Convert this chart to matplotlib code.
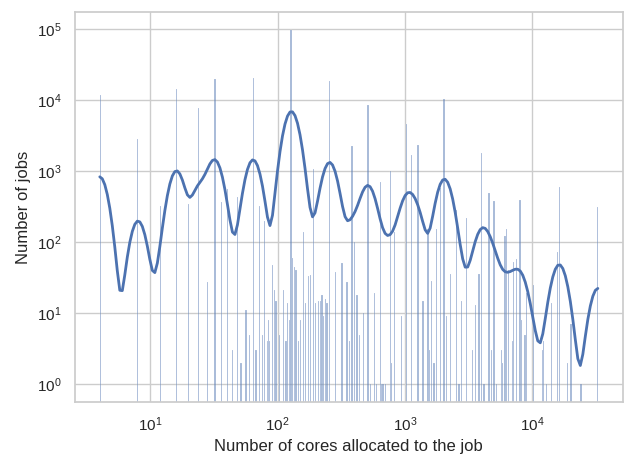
import numpy as np
import matplotlib
matplotlib.use("Agg")
import matplotlib.pyplot as plt
import seaborn as sns

# core counts requested by jobs and how many jobs asked for each
cores = [4, 8, 12, 16, 20, 24, 28, 32, 36, 40, 44, 48, 52, 56, 60, 64,
         68, 72, 76, 80, 82, 84, 86, 90, 94, 96, 104, 112, 116, 120, 124, 128,
         130, 136, 140, 144, 152, 160, 168, 176, 184, 192, 200, 208, 216, 224,
         228, 240, 244, 256, 288, 320, 352, 368, 384, 400, 416, 440, 464, 512,
         540, 576, 600, 640, 656, 672, 700, 768, 790, 820, 940, 1024, 1120,
         1250, 1370, 1500, 1560, 1620, 1700, 1792, 1880, 2048, 2130, 2260,
         2540, 2630, 2800, 3072, 3400, 3540, 3780, 4000, 4180, 4560, 4780,
         5000, 5200, 5730, 5900, 6144, 6300, 6600, 7000, 7240, 7560, 8000,
         8280, 8780, 9000, 10200, 12100, 12400, 12800, 14100, 15700, 16384,
         18900, 20000, 24300, 32768]
jobs = [11700, 2800, 325, 14100, 340, 7600, 27, 19500, 365, 550, 3, 435, 2, 11, 5, 20000,
        3, 325, 5, 200, 4, 8, 4, 48, 21, 15, 5, 21, 4, 14, 8, 97000,
        59, 44, 40, 4, 8, 137, 14, 33, 34, 1050, 14, 15, 15, 18,
        9, 16, 14, 18500, 38, 51, 27, 4, 2240, 100, 18, 5, 10, 8500,
        1, 19, 1, 705, 1, 1, 1, 1000, 2, 140, 9, 4600, 1700,
        2300, 15, 155, 3, 28, 2, 155, 570, 10200, 9, 36,
        280, 1, 15, 215, 3, 13, 36, 1780, 1, 485, 3,
        380, 1, 3, 2, 122, 155, 40, 4, 53, 57, 385,
        8, 5, 19, 25, 3, 4, 1, 14, 73, 600,
        2, 7, 1, 315]

# one entry per job
alloc = np.repeat(cores, jobs)

sns.set_theme(style="whitegrid")
plt.rcParams["font.family"] = ["Liberation Sans", "DejaVu Sans"]

fig, ax = plt.subplots(figsize=(6.24, 4.62), dpi=100)
fig.subplots_adjust(left=0.120, right=0.998, bottom=0.130, top=0.974)

sns.histplot(x=alloc, bins=400, log_scale=True, kde=True,
             line_kws={"linewidth": 2}, ax=ax)
ax.set_yscale("log")
ax.set_xlabel("Number of cores allocated to the job")
ax.set_ylabel("Number of jobs")

fig.savefig("out.png", dpi=100)
